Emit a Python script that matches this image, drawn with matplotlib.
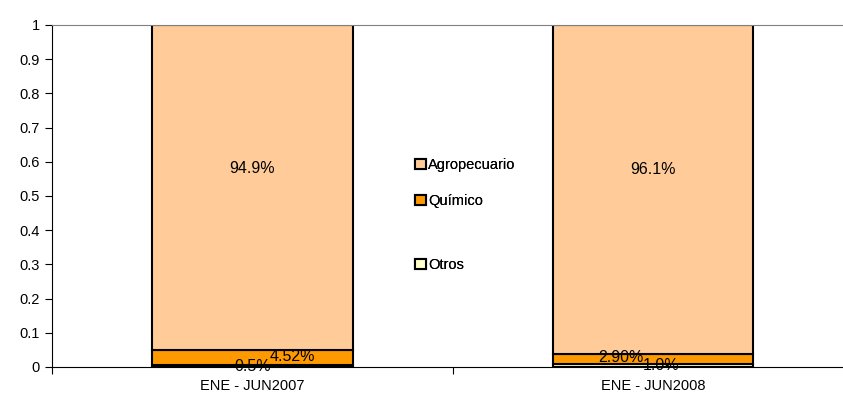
import numpy as np
import matplotlib.pyplot as plt
from matplotlib.patches import Patch

plt.rcParams['font.family'] = ['Liberation Sans', 'DejaVu Sans']

periods = ["ENE - JUN2007", "ENE - JUN2008"]
series = ["Otros", "Químico", "Agropecuario"]
otros = [0.005, 0.010]
quimico = [0.0452, 0.0290]
agro = [0.949, 0.961]
otros_lbl = ["0.5%", "1.0%"]
quimico_lbl = ["4.52%", "2.90%"]
agro_lbl = ["94.9%", "96.1%"]
colors = {"Otros": "#FFFFCC", "Químico": "#FF9900", "Agropecuario": "#FFCC99"}

fig = plt.figure(figsize=(8.43, 4.01), dpi=100)
ax = fig.add_axes([0.0617, 0.0848, 0.951, 0.853])

x = np.arange(len(periods))
w = 0.5
b1 = np.array(otros)
b2 = b1 + np.array(quimico)
ax.bar(x, otros, w, color=colors["Otros"], edgecolor="black", lw=1.5)
ax.bar(x, quimico, w, bottom=b1, color=colors["Químico"], edgecolor="black", lw=1.5)
ax.bar(x, agro, w, bottom=b2, color=colors["Agropecuario"], edgecolor="black", lw=1.5)

fs = 10.5
lfs = 11.5
for i in range(len(periods)):
    ax.text(x[i], b2[i] + agro[i] * 0.56, agro_lbl[i], ha="center", va="center", fontsize=lfs)
ax.text(x[0] + 0.1, b1[0] + quimico[0] * 0.6, quimico_lbl[0], ha="center", va="center", fontsize=lfs)
ax.text(x[0], otros[0] * 0.4, otros_lbl[0], ha="center", va="center", fontsize=lfs)
ax.text(x[1] - 0.08, b1[1] + quimico[1] * 0.6, quimico_lbl[1], ha="center", va="center", fontsize=lfs)
ax.text(x[1] + 0.02, otros[1] * 0.3, otros_lbl[1], ha="center", va="center", fontsize=lfs)

ax.set_xlim(-0.5, 1.5)
ax.set_ylim(0, 1)
ax.set_yticks(np.arange(0, 1.01, 0.1))
ax.set_yticklabels(["0"] + [f"{v:.1f}" for v in np.arange(0.1, 0.95, 0.1)] + ["1"])
ax.set_xticks(x)
ax.set_xticklabels(periods)
ax.set_xticks([-0.5, 0.5, 1.5], minor=True)
ax.tick_params(axis="x", which="major", length=0, pad=9, labelsize=fs)
ax.tick_params(axis="x", which="minor", length=5, width=0.8, direction="out")
ax.tick_params(axis="y", length=5, width=0.8, direction="out", labelsize=fs, pad=4)
ax.spines["right"].set_visible(False)
ax.spines["top"].set_color("#808080")
ax.spines["left"].set_linewidth(0.8)
ax.spines["bottom"].set_linewidth(0.8)

for name, ly in zip(["Otros", "Químico", "Agropecuario"], [0.339, 0.499, 0.589]):
    h = [Patch(facecolor=colors[name], edgecolor="black", lw=1.5)]
    leg = fig.legend(h, [name], loc="center left", bbox_to_anchor=(0.484, ly),
                     frameon=False, fontsize=fs, handlelength=0.7, handleheight=0.7,
                     handletextpad=0.2, borderpad=0)
    fig.add_artist(leg)

fig.savefig("out.png", dpi=100)
